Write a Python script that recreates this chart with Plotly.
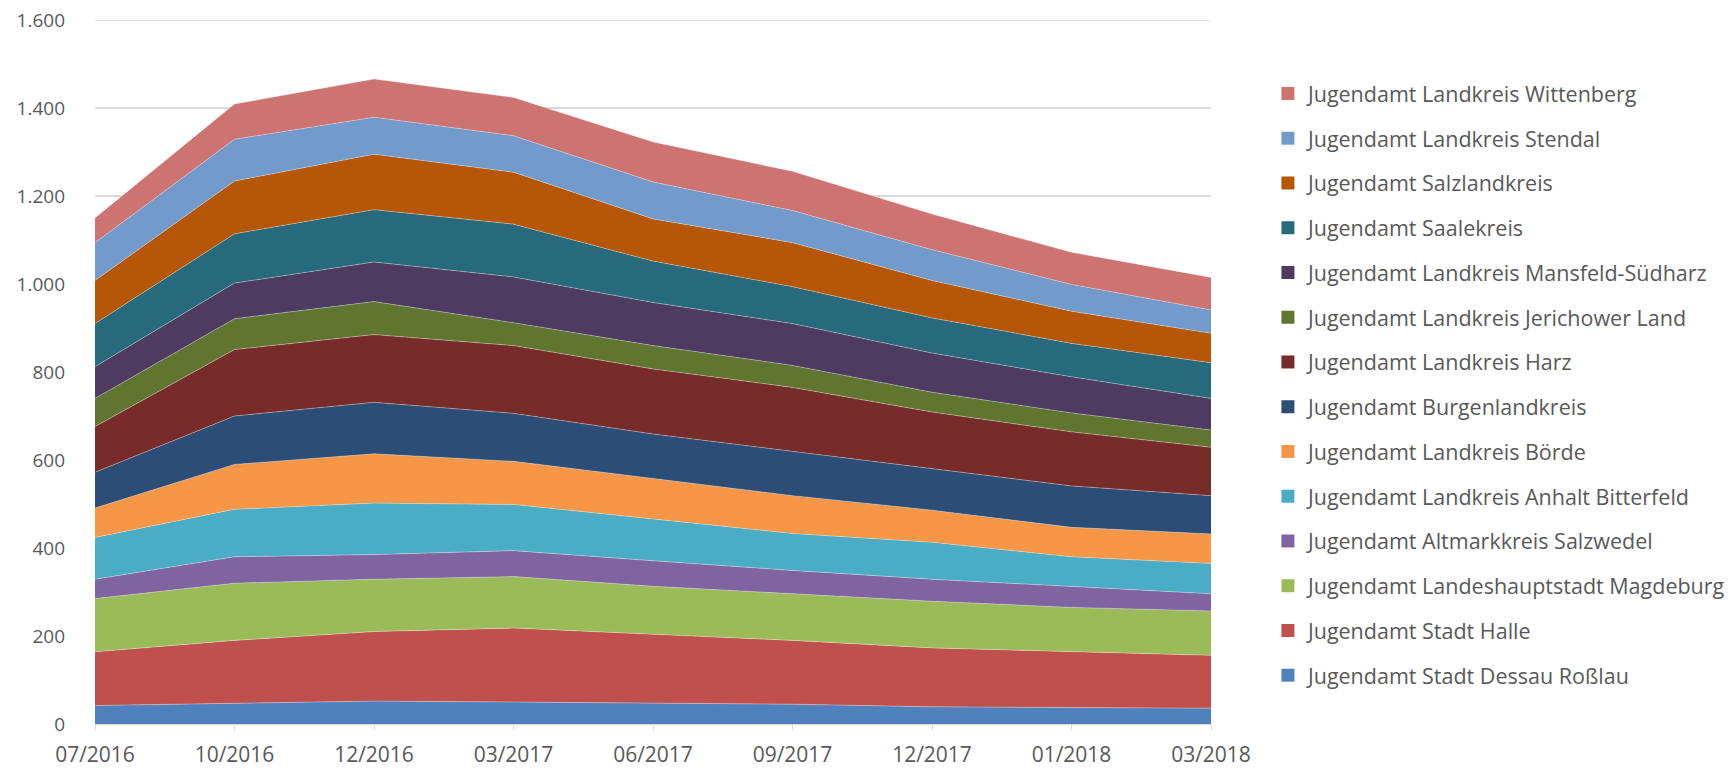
import plotly.graph_objects as go

months = ["07/2016", "10/2016", "12/2016", "03/2017", "06/2017", "09/2017", "12/2017", "01/2018", "03/2018"]

# series in stacking order (bottom -> top)
dessau = [42, 47, 52, 50, 47, 45, 39, 38, 36]
halle = [122, 143, 158, 168, 157, 145, 134, 126, 120]
magdeburg = [121, 130, 119, 117, 109, 106, 106, 101, 101]
altmark = [44, 60, 56, 59, 58, 53, 50, 48, 39]
anhalt = [95, 108, 117, 105, 95, 84, 84, 67, 69]
boerde = [67, 102, 112, 98, 92, 86, 73, 67, 67]
burgen = [81, 110, 117, 109, 101, 101, 95, 94, 87]
harz = [104, 151, 154, 154, 148, 145, 128, 123, 110]
jerichow = [64, 70, 75, 52, 53, 50, 45, 43, 39]
mansfeld = [72, 81, 90, 104, 98, 95, 89, 82, 72]
saale = [98, 112, 119, 120, 94, 84, 80, 76, 81]
salzland = [98, 120, 126, 118, 96, 100, 85, 73, 67]
stendal = [86, 95, 84, 83, 84, 73, 70, 61, 53]
wittenberg = [56, 80, 87, 87, 91, 89, 81, 73, 74]

series = [
    ("Jugendamt Stadt Dessau Roßlau", dessau, "#4F81BD"),
    ("Jugendamt Stadt Halle", halle, "#C0504D"),
    ("Jugendamt Landeshauptstadt Magdeburg", magdeburg, "#9BBB59"),
    ("Jugendamt Altmarkkreis Salzwedel", altmark, "#8064A2"),
    ("Jugendamt Landkreis Anhalt Bitterfeld", anhalt, "#4BACC6"),
    ("Jugendamt Landkreis Börde", boerde, "#F79646"),
    ("Jugendamt Burgenlandkreis", burgen, "#2C4D75"),
    ("Jugendamt Landkreis Harz", harz, "#772C2A"),
    ("Jugendamt Landkreis Jerichower Land", jerichow, "#5F7530"),
    ("Jugendamt Landkreis Mansfeld-Südharz", mansfeld, "#4D3B62"),
    ("Jugendamt Saalekreis", saale, "#276A7C"),
    ("Jugendamt Salzlandkreis", salzland, "#B65708"),
    ("Jugendamt Landkreis Stendal", stendal, "#729ACA"),
    ("Jugendamt Landkreis Wittenberg", wittenberg, "#CD7371"),
]

FONT = "Open Sans"
GREY = "#595959"
GRID = "#d9d9d9"

fig = go.Figure()

for name, vals, color in series:
    fig.add_trace(go.Scatter(
        x=months, y=vals, name=name, stackgroup="one", mode="lines",
        line=dict(width=0.7, color="rgba(255,255,255,0.45)"),
        fillcolor=color, showlegend=False,
        hovertemplate="%{x}<br>%{y}<extra>" + name + "</extra>",
    ))

# legend entries with small square swatches, top series first like the original
for i, (name, vals, color) in enumerate(reversed(series)):
    fig.add_trace(go.Scatter(
        x=[None], y=[None], name=name, mode="markers",
        marker=dict(symbol="square", size=13, color=color),
        legendgroup=str(i), showlegend=True,
    ))

# top gridline (plotly skips the one sitting on the range edge)
fig.add_shape(type="line", xref="paper", yref="y", x0=0, x1=1, y0=1600, y1=1600,
              line=dict(color=GRID, width=1.5), layer="below")

# page body has an 8px margin, so the figure is sized/offset to fit the window
fig.update_layout(
    width=1725, height=760,
    plot_bgcolor="white", paper_bgcolor="white",
    margin=dict(l=87, r=522, t=12, b=44, autoexpand=False),
    separators=",.",
    font=dict(family=FONT, size=20, color=GREY),
    legend=dict(
        x=1.051, y=0.9247, xanchor="left", yanchor="top",
        traceorder="grouped", tracegroupgap=13.8,
        font=dict(family=FONT, size=21.5, color=GREY),
        itemwidth=30,
    ),
    showlegend=True,
)

fig.update_xaxes(
    type="category", range=[0, len(months) - 1], automargin=False,
    showgrid=False, ticks="outside", ticklen=5, tickcolor=GRID,
    showline=True, linecolor=GRID, ticklabelstandoff=7,
    tickfont=dict(family=FONT, size=21, color=GREY),
)
fig.update_yaxes(
    range=[0, 1600], dtick=200, tickformat=",d", automargin=False,
    showgrid=True, gridcolor=GRID, gridwidth=1.5,
    zeroline=False, showline=False, ticklabelstandoff=29,
    ticklabeloverflow="allow",
    tickfont=dict(family=FONT, size=19, color=GREY),
)

fig.write_html("out.html")
